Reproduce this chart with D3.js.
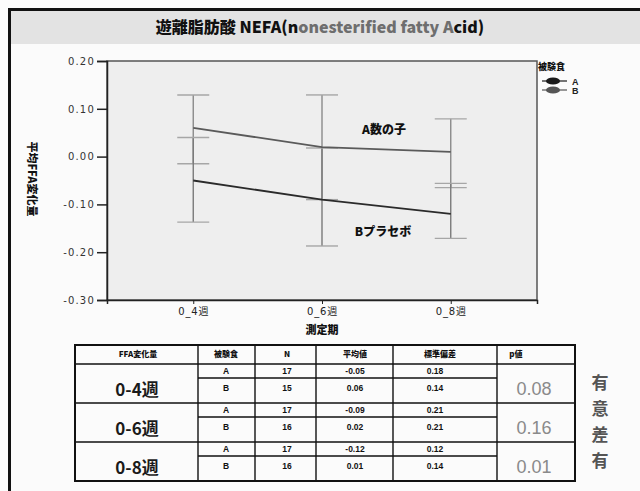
<!DOCTYPE html>
<html>
<head>
<meta charset="utf-8">
<script src="https://cdn.jsdelivr.net/npm/d3@7"></script>
<style>
  html, body { margin: 0; padding: 0; background: #fbfbfb; }
  svg { display: block; }
  text { font-family: "Liberation Sans", "Noto Sans CJK JP", sans-serif; }
  .jp { font-family: "Noto Sans CJK JP", sans-serif; }
</style>
</head>
<body>
<svg id="chart" width="640" height="491"></svg>
<script>
// ---- chart data ----
const weeks = ["0_4週", "0_6週", "0_8週"];
const yTicks = [0.20, 0.10, 0.00, -0.10, -0.20, -0.30];

// upper line (数の子) and lower line (プラセボ): means with 95% CI bounds
const meanUpper = [0.06, 0.02, 0.01];
const ciUpperLo = [-0.015, -0.09, -0.065];
const ciUpperHi = [0.129, 0.129, 0.079];
const meanLower = [-0.05, -0.09, -0.12];
const ciLowerLo = [-0.137, -0.187, -0.171];
const ciLowerHi = [0.040, 0.018, -0.056];

const legendGroups = ["A", "B"];

// ---- summary table data ----
const periods = ["0-4週", "0-6週", "0-8週"];
const tableHeaders = ["FFA変化量", "被験食", "N", "平均値", "標準偏差", "p値"];
const nValues = [[17, 15], [17, 16], [17, 16]];
const meanValues = [["-0.05", "0.06"], ["-0.09", "0.02"], ["-0.12", "0.01"]];
const sdValues = [["0.18", "0.14"], ["0.21", "0.21"], ["0.12", "0.14"]];
const pValues = ["0.08", "0.16", "0.01"];
const verdict = ["有", "意", "差", "有"];

const svg = d3.select("#chart");

// ---- outer frame and title band ----
svg.append("rect").attr("x", 11).attr("y", 11).attr("width", 629).attr("height", 33)
  .attr("fill", "#e3e3e3");
svg.append("line").attr("x1", 8).attr("x2", 640).attr("y1", 9.5).attr("y2", 9.5)
  .attr("stroke", "#111").attr("stroke-width", 3);
svg.append("line").attr("x1", 9.5).attr("x2", 9.5).attr("y1", 8).attr("y2", 491)
  .attr("stroke", "#111").attr("stroke-width", 3);

const title = svg.append("text").attr("class", "jp")
  .attr("x", 320).attr("y", 33).attr("text-anchor", "middle")
  .attr("font-size", 16).attr("font-weight", "900").attr("fill", "#111");
title.append("tspan").text("遊離脂肪酸 NEFA(n");
title.append("tspan").attr("fill", "#6e6e6e").text("onesterified fatty A");
title.append("tspan").text("cid)");

// ---- plot area ----
const plot = { left: 107, right: 537, top: 61, bottom: 300 };

const x = d3.scalePoint().domain(weeks).range([plot.left, plot.right]).padding(0.67);
const y = d3.scaleLinear().domain([-0.30, 0.20]).range([plot.bottom, plot.top]);

svg.append("rect")
  .attr("x", plot.left).attr("y", plot.top)
  .attr("width", plot.right - plot.left).attr("height", plot.bottom - plot.top)
  .attr("fill", "#eeeeee").attr("stroke", "#555").attr("stroke-width", 1.5);

// y axis
const yAxis = svg.append("g").attr("transform", `translate(${plot.left},0)`)
  .call(d3.axisLeft(y).tickValues(yTicks).tickSize(10).tickPadding(2)
    .tickFormat(d => d.toFixed(2)));
yAxis.select(".domain").attr("stroke", "#222").attr("stroke-width", 1.5);
yAxis.selectAll(".tick line").attr("stroke", "#222").attr("stroke-width", 1.5);
yAxis.selectAll(".tick text").attr("font-size", 10).attr("letter-spacing", 1.2)
  .attr("fill", "#333").style("font-family", "DejaVu Sans");

// x axis
const xAxis = svg.append("g").attr("transform", `translate(0,${plot.bottom})`)
  .call(d3.axisBottom(x).tickSize(4).tickPadding(4));
xAxis.select(".domain").attr("stroke", "#222").attr("stroke-width", 1.5);
xAxis.selectAll(".tick line").attr("stroke", "#222");
xAxis.selectAll(".tick text").attr("font-size", 10).attr("letter-spacing", 0.8)
  .attr("fill", "#222").style("font-family", "DejaVu Sans, Noto Sans CJK JP");

// axis titles
svg.append("text").attr("class", "jp")
  .attr("transform", `translate(28,179) rotate(90)`)
  .attr("text-anchor", "middle").attr("font-size", 11).attr("font-weight", "900")
  .attr("fill", "#111").text("平均FFA変化量");
svg.append("text").attr("class", "jp")
  .attr("x", x(weeks[1])).attr("y", 334).attr("text-anchor", "middle")
  .attr("font-size", 11).attr("font-weight", "900").attr("fill", "#111").text("測定期");

// error bars
function errorBars(lo, hi, color) {
  const g = svg.append("g");
  weeks.forEach((w, i) => {
    const cx = x(w);
    g.append("line").attr("x1", cx).attr("x2", cx).attr("y1", y(lo[i])).attr("y2", y(hi[i]))
      .attr("stroke", color).attr("stroke-width", 1.4);
    [lo[i], hi[i]].forEach(v => {
      g.append("line").attr("x1", cx - 16).attr("x2", cx + 16).attr("y1", y(v)).attr("y2", y(v))
        .attr("stroke", "#a6a6a6").attr("stroke-width", 1.4);
    });
  });
}
errorBars(ciUpperLo, ciUpperHi, "#8a8a8a");
errorBars(ciLowerLo, ciLowerHi, "#7a7a7a");

// mean lines
const line = d3.line().x((d, i) => x(weeks[i])).y(d => y(d));
svg.append("path").datum(meanUpper).attr("d", line)
  .attr("fill", "none").attr("stroke", "#5a5a5a").attr("stroke-width", 1.8);
svg.append("path").datum(meanLower).attr("d", line)
  .attr("fill", "none").attr("stroke", "#2a2a2a").attr("stroke-width", 1.8);

// in-plot labels
svg.append("text").attr("class", "jp").attr("x", 384).attr("y", 134)
  .attr("text-anchor", "middle").attr("font-size", 12).attr("font-weight", "900")
  .attr("fill", "#111").text("A数の子");
svg.append("text").attr("class", "jp").attr("x", 383).attr("y", 236)
  .attr("text-anchor", "middle").attr("font-size", 12).attr("font-weight", "900")
  .attr("fill", "#111").text("Bプラセボ");

// legend
svg.append("text").attr("class", "jp").attr("x", 538).attr("y", 70)
  .attr("font-size", 9).attr("font-weight", "900").attr("fill", "#111").text("被験食");
const legendColors = ["#1a1a1a", "#555"];
legendGroups.forEach((gname, i) => {
  const ly = 81 + i * 9;
  svg.append("line").attr("x1", 542).attr("x2", 567).attr("y1", ly).attr("y2", ly)
    .attr("stroke", legendColors[i]).attr("stroke-width", 1.2);
  svg.append("ellipse").attr("cx", 553).attr("cy", ly).attr("rx", 7).attr("ry", 3.6)
    .attr("fill", legendColors[i]);
  svg.append("text").attr("x", 572).attr("y", ly + 3.5).attr("font-size", 9)
    .attr("font-weight", "bold").attr("fill", "#222").text(gname);
});

// ---- summary table ----
const cols = [75, 198, 255, 316, 393, 497, 575];
const headTop = 345, headBottom = 364, groupH = 39, rowA = 14;
const tbl = svg.append("g");

// header texts
const headX = [138, 226, 287, 355, 440, 516];
tableHeaders.forEach((h, i) => {
  tbl.append("text").attr("class", "jp").attr("x", headX[i]).attr("y", 357)
    .attr("text-anchor", "middle").attr("font-size", 8).attr("font-weight", "900")
    .attr("fill", "#111").text(h);
});

periods.forEach((p, gi) => {
  const top = headBottom + gi * groupH;
  // group separators
  tbl.append("line").attr("x1", cols[0]).attr("x2", cols[6]).attr("y1", top).attr("y2", top)
    .attr("stroke", "#111").attr("stroke-width", 1.6);
  tbl.append("line").attr("x1", cols[1]).attr("x2", cols[5]).attr("y1", top + rowA).attr("y2", top + rowA)
    .attr("stroke", "#111").attr("stroke-width", 1.4);
  tbl.append("text").attr("class", "jp").attr("x", 137).attr("y", top + 32)
    .attr("text-anchor", "middle").attr("font-size", 17).attr("font-weight", "bold")
    .attr("fill", "#1a1a1a").text(p);
  tbl.append("text").attr("x", 534).attr("y", top + 31)
    .attr("text-anchor", "middle").attr("font-size", 18)
    .attr("fill", "#8a8a8a").text(pValues[gi]);
  legendGroups.forEach((gname, ri) => {
    const ty = ri === 0 ? top + 10 : top + rowA + 13;
    const cells = [
      [226, gname], [287, nValues[gi][ri]], [355, meanValues[gi][ri]], [435, sdValues[gi][ri]]
    ];
    cells.forEach(([cx, t]) => {
      tbl.append("text").attr("x", cx).attr("y", ty).attr("text-anchor", "middle")
        .attr("font-size", 8.5).attr("font-weight", "bold").attr("fill", "#111").text(t);
    });
  });
});

// column lines and outer border
cols.forEach((cx, i) => {
  tbl.append("line").attr("x1", cx).attr("x2", cx).attr("y1", headTop).attr("y2", 481)
    .attr("stroke", "#111").attr("stroke-width", (i === 0 || i === 6) ? 2 : 1.4);
});
tbl.append("rect").attr("x", cols[0]).attr("y", headTop)
  .attr("width", cols[6] - cols[0]).attr("height", 481 - headTop)
  .attr("fill", "none").attr("stroke", "#111").attr("stroke-width", 2);

// vertical verdict text
verdict.forEach((ch, i) => {
  svg.append("text").attr("class", "jp").attr("x", 600).attr("y", 389 + i * 26)
    .attr("text-anchor", "middle").attr("font-size", 17).attr("font-weight", "bold")
    .attr("fill", "#555").text(ch);
});
</script>
</body>
</html>
